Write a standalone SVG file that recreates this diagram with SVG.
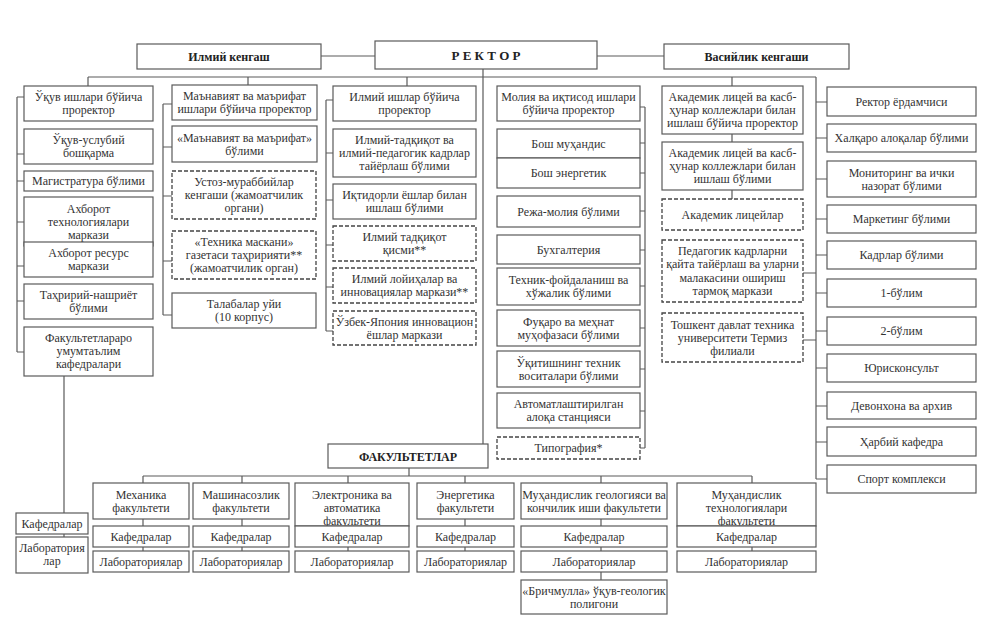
<svg xmlns="http://www.w3.org/2000/svg" width="992" height="641" viewBox="0 0 992 641">
<style>
.r{fill:#fff;stroke:#5a5a5a;stroke-width:1.2}
.d{fill:#fff;stroke:#444;stroke-width:1.3;stroke-dasharray:4 2}
.t{font-family:"Liberation Serif","Times New Roman",serif;font-size:12px;fill:#333;text-anchor:middle}
.b{font-family:"Liberation Serif","Times New Roman",serif;font-size:12px;font-weight:bold;fill:#222;text-anchor:middle}
.c{fill:none;stroke:#5a5a5a;stroke-width:1.2}
</style>
<rect width="992" height="641" fill="#fff"/>
<g id="connectors">
<path class="c" d="M321 56H375 M597 56H664 M88 77H816 M88 77V86 M248 77V85 M407 77V86 M732 77V86 M483 69V444 M816 77V479
M17 97V352 M17 97H24 M17 154H24 M17 181H24 M17 222H24 M17 266H24 M17 301H24 M17 352H24 M64 376V513 M64 534V537
M163 104V315 M163 104H172 M163 147H172 M163 196H172 M163 261H172 M163 315H172
M326 100V331 M326 100H333 M326 153H333 M326 200H333 M326 245H333 M326 287H333 M326 331H333
M645 107V448 M640 107H645 M640 143H645 M640 173H645 M640 211H645 M640 250H645 M640 286H645 M640 328H645 M640 369H645 M640 411H645 M640 448H645
M732 134V142 M732 190V199 M803 273H816 M803 340H816
M816 102H827 M816 138H827 M816 179H827 M816 219H827 M816 255H827 M816 293H827 M816 331H827 M816 368H827 M816 406H827 M816 442H827 M816 479H827
M409 468V476 M143 476H752 M143 476V483 M242 476V483 M348 476V483 M465 476V483 M601 476V483 M752 476V483
M143 519V526 M143 547V551 M242 519V526 M242 547V551 M348 547V551 M465 519V526 M465 547V551 M601 519V526 M601 547V551 M601 572V580 M752 547V551"/>
</g>
<g id="ilmiy-kengash"><rect class="r" x="137" y="44" width="184" height="25"/><text class="b" x="229" y="61">Илмий кенгаш</text></g>
<g id="rektor"><rect class="r" x="375" y="41" width="222" height="28"/><text class="b" x="486" y="60" style="font-size:13px">Р Е К Т О Р</text></g>
<g id="vasiylik"><rect class="r" x="664" y="44" width="185" height="25"/><text class="b" x="756.5" y="61">Васийлик кенгаши</text></g>

<g id="c1-1"><rect class="r" x="24" y="86" width="129" height="35"/><text class="t" x="88.5" y="101">Ўқув ишлари бўйича<tspan x="88.5" dy="13">проректор</tspan></text></g>
<g id="c1-2"><rect class="r" x="24" y="129" width="129" height="35"/><text class="t" x="88.5" y="144">Ўқув-услубий<tspan x="88.5" dy="13">бошқарма</tspan></text></g>
<g id="c1-3"><rect class="r" x="24" y="171" width="129" height="20"/><text class="t" x="88.5" y="185">Магистратура бўлими</text></g>
<g id="c1-4"><rect class="r" x="24" y="197" width="129" height="49"/><text class="t" x="88.5" y="213">Ахборот<tspan x="88.5" dy="13">технологиялари</tspan><tspan x="88.5" dy="13">маркази</tspan></text></g>
<g id="c1-5"><rect class="r" x="24" y="242" width="129" height="35"/><text class="t" x="88.5" y="257">Ахборот ресурс<tspan x="88.5" dy="13">маркази</tspan></text></g>
<g id="c1-6"><rect class="r" x="24" y="284" width="129" height="35"/><text class="t" x="88.5" y="299">Таҳририй-нашриёт<tspan x="88.5" dy="13">бўлими</tspan></text></g>
<g id="c1-7"><rect class="r" x="24" y="327" width="129" height="49"/><text class="t" x="88.5" y="342">Факультетлараро<tspan x="88.5" dy="13">умумтаълим</tspan><tspan x="88.5" dy="13">кафедралари</tspan></text></g>
<g id="c1-8"><rect class="r" x="16" y="513" width="72" height="21"/><text class="t" x="52" y="527.5">Кафедралар</text></g>
<g id="c1-9"><rect class="r" x="16" y="537" width="72" height="36"/><text class="t" x="52" y="552">Лаборатория<tspan x="52" dy="13">лар</tspan></text></g>

<g id="c2-1"><rect class="r" x="172" y="85" width="145" height="35"/><text class="t" x="244.5" y="100">Маънавият ва маърифат<tspan x="244.5" dy="13">ишлари бўйича проректор</tspan></text></g>
<g id="c2-2"><rect class="r" x="172" y="126" width="145" height="36"/><text class="t" x="244.5" y="141.5">«Маънавият ва маърифат»<tspan x="244.5" dy="13">бўлими</tspan></text></g>
<g id="c2-3"><rect class="d" x="172" y="171" width="144" height="48"/><text class="t" x="244" y="186">Устоз-мураббийлар<tspan x="244" dy="13">кенгаши (жамоатчилик</tspan><tspan x="244" dy="13">органи)</tspan></text></g>
<g id="c2-4"><rect class="d" x="172" y="231" width="144" height="48"/><text class="t" x="244" y="246">«Техника маскани»<tspan x="244" dy="13">газетаси таҳририяти**</tspan><tspan x="244" dy="13">(жамоатчилик орган)</tspan></text></g>
<g id="c2-5"><rect class="r" x="172" y="293" width="144" height="35"/><text class="t" x="244" y="308">Талабалар уйи<tspan x="244" dy="13">(10 корпус)</tspan></text></g>

<g id="c3-1"><rect class="r" x="333" y="86" width="143" height="35"/><text class="t" x="404.5" y="101">Илмий ишлар бўйича<tspan x="404.5" dy="13">проректор</tspan></text></g>
<g id="c3-2"><rect class="r" x="333" y="129" width="143" height="48"/><text class="t" x="404.5" y="144">Илмий-тадқиқот ва<tspan x="404.5" dy="13">илмий-педагогик кадрлар</tspan><tspan x="404.5" dy="13">тайёрлаш бўлими</tspan></text></g>
<g id="c3-3"><rect class="r" x="333" y="184" width="143" height="35"/><text class="t" x="404.5" y="199">Иқтидорли ёшлар билан<tspan x="404.5" dy="13">ишлаш бўлими</tspan></text></g>
<g id="c3-4"><rect class="d" x="333" y="226" width="143" height="35"/><text class="t" x="404.5" y="241">Илмий тадқиқот<tspan x="404.5" dy="13">қисми**</tspan></text></g>
<g id="c3-5"><rect class="d" x="333" y="268" width="143" height="35"/><text class="t" x="404.5" y="283">Илмий лойиҳалар ва<tspan x="404.5" dy="13">инновациялар маркази**</tspan></text></g>
<g id="c3-6"><rect class="d" x="333" y="311" width="143" height="34"/><text class="t" x="404.5" y="325.5">Ўзбек-Япония инновацион<tspan x="404.5" dy="13">ёшлар маркази</tspan></text></g>

<g id="c4-1"><rect class="r" x="497" y="86" width="143" height="35"/><text class="t" x="568.5" y="101">Молия ва иқтисод ишлари<tspan x="568.5" dy="13">бўйича проректор</tspan></text></g>
<g id="c4-2"><rect class="r" x="497" y="129" width="143" height="29"/><text class="t" x="568.5" y="147.5">Бош муҳандис</text></g>
<g id="c4-3"><rect class="r" x="497" y="158" width="143" height="30"/><text class="t" x="568.5" y="177">Бош энергетик</text></g>
<g id="c4-4"><rect class="r" x="497" y="196" width="143" height="31"/><text class="t" x="568.5" y="215.5">Режа-молия бўлими</text></g>
<g id="c4-5"><rect class="r" x="497" y="235" width="143" height="29"/><text class="t" x="568.5" y="253.5">Бухгалтерия</text></g>
<g id="c4-6"><rect class="r" x="497" y="268" width="143" height="37"/><text class="t" x="568.5" y="284">Техник-фойдаланиш ва<tspan x="568.5" dy="13">хўжалик бўлими</tspan></text></g>
<g id="c4-7"><rect class="r" x="497" y="310" width="143" height="36"/><text class="t" x="568.5" y="325.5">Фуқаро ва меҳнат<tspan x="568.5" dy="13">муҳофазаси бўлими</tspan></text></g>
<g id="c4-8"><rect class="r" x="497" y="351" width="143" height="36"/><text class="t" x="568.5" y="366.5">Ўқитишнинг техник<tspan x="568.5" dy="13">воситалари бўлими</tspan></text></g>
<g id="c4-9"><rect class="r" x="497" y="393" width="143" height="35"/><text class="t" x="568.5" y="408">Автоматлаштирилган<tspan x="568.5" dy="13">алоқа станцияси</tspan></text></g>
<g id="c4-10"><rect class="d" x="497" y="437" width="143" height="22"/><text class="t" x="568.5" y="452">Типография*</text></g>

<g id="c5-1"><rect class="r" x="662" y="86" width="141" height="48"/><text class="t" x="732.5" y="101">Академик лицей ва касб-<tspan x="732.5" dy="13">ҳунар коллежлари билан</tspan><tspan x="732.5" dy="13">ишлаш бўйича проректор</tspan></text></g>
<g id="c5-2"><rect class="r" x="662" y="142" width="141" height="48"/><text class="t" x="732.5" y="157">Академик лицей ва касб-<tspan x="732.5" dy="13">ҳунар коллежлари билан</tspan><tspan x="732.5" dy="13">ишлаш бўлими</tspan></text></g>
<g id="c5-3"><rect class="d" x="662" y="199" width="141" height="31"/><text class="t" x="732.5" y="218.5">Академик лицейлар</text></g>
<g id="c5-4"><rect class="d" x="662" y="240" width="141" height="62"/><text class="t" x="732.5" y="255">Педагогик кадрларни<tspan x="732.5" dy="13">қайта тайёрлаш ва уларни</tspan><tspan x="732.5" dy="13.5">малакасини ошириш</tspan><tspan x="732.5" dy="13">тармоқ маркази</tspan></text></g>
<g id="c5-5"><rect class="d" x="662" y="313" width="141" height="49"/><text class="t" x="732.5" y="328.5">Тошкент давлат техника<tspan x="732.5" dy="13">университети Термиз</tspan><tspan x="732.5" dy="13">филиали</tspan></text></g>

<g id="r-1"><rect class="r" x="827" y="87" width="149" height="29"/><text class="t" x="901.5" y="105.5">Ректор ёрдамчиси</text></g>
<g id="r-2"><rect class="r" x="827" y="124" width="149" height="28"/><text class="t" x="901.5" y="142">Халқаро алоқалар бўлими</text></g>
<g id="r-3"><rect class="r" x="827" y="161" width="149" height="36"/><text class="t" x="901.5" y="176.5">Мониторинг ва ички<tspan x="901.5" dy="13">назорат бўлими</tspan></text></g>
<g id="r-4"><rect class="r" x="827" y="205" width="149" height="28"/><text class="t" x="901.5" y="223">Маркетинг бўлими</text></g>
<g id="r-5"><rect class="r" x="827" y="241" width="149" height="28"/><text class="t" x="901.5" y="259">Кадрлар бўлими</text></g>
<g id="r-6"><rect class="r" x="827" y="279" width="149" height="28"/><text class="t" x="901.5" y="297">1-бўлим</text></g>
<g id="r-7"><rect class="r" x="827" y="317" width="149" height="28"/><text class="t" x="901.5" y="335">2-бўлим</text></g>
<g id="r-8"><rect class="r" x="827" y="354" width="149" height="28"/><text class="t" x="901.5" y="372">Юрисконсульт</text></g>
<g id="r-9"><rect class="r" x="827" y="392" width="149" height="27"/><text class="t" x="901.5" y="409.5">Девонхона ва архив</text></g>
<g id="r-10"><rect class="r" x="827" y="427" width="149" height="29"/><text class="t" x="901.5" y="445.5">Ҳарбий кафедра</text></g>
<g id="r-11"><rect class="r" x="827" y="465" width="149" height="28"/><text class="t" x="901.5" y="483">Спорт комплекси</text></g>

<g id="fakultetlar"><rect class="r" x="328" y="444" width="160" height="24"/><text class="b" x="408" y="460.5">ФАКУЛЬТЕТЛАР</text></g>

<g id="f1"><rect class="r" x="93" y="483" width="96" height="36"/><text class="t" x="141" y="498.5">Механика<tspan x="141" dy="13">факультети</tspan></text></g>
<g id="f1-k"><rect class="r" x="93" y="526" width="96" height="21"/><text class="t" x="141" y="540.5">Кафедралар</text></g>
<g id="f1-l"><rect class="r" x="93" y="551" width="96" height="21"/><text class="t" x="141" y="565.5">Лабораториялар</text></g>

<g id="f2"><rect class="r" x="193" y="483" width="96" height="36"/><text class="t" x="241" y="498.5">Машинасозлик<tspan x="241" dy="13">факультети</tspan></text></g>
<g id="f2-k"><rect class="r" x="193" y="526" width="96" height="21"/><text class="t" x="241" y="540.5">Кафедралар</text></g>
<g id="f2-l"><rect class="r" x="193" y="551" width="96" height="21"/><text class="t" x="241" y="565.5">Лабораториялар</text></g>

<g id="f3"><rect class="r" x="295" y="483" width="114" height="43"/><text class="t" x="352" y="499">Электроника ва<tspan x="352" dy="13">автоматика</tspan><tspan x="352" dy="13">факультети</tspan></text></g>
<g id="f3-k"><rect class="r" x="295" y="526" width="114" height="21"/><text class="t" x="352" y="540.5">Кафедралар</text></g>
<g id="f3-l"><rect class="r" x="295" y="551" width="114" height="21"/><text class="t" x="352" y="565.5">Лабораториялар</text></g>

<g id="f4"><rect class="r" x="417" y="483" width="97" height="36"/><text class="t" x="465.5" y="498.5">Энергетика<tspan x="465.5" dy="13">факультети</tspan></text></g>
<g id="f4-k"><rect class="r" x="417" y="526" width="97" height="21"/><text class="t" x="465.5" y="540.5">Кафедралар</text></g>
<g id="f4-l"><rect class="r" x="417" y="551" width="97" height="21"/><text class="t" x="465.5" y="565.5">Лабораториялар</text></g>

<g id="f5"><rect class="r" x="521" y="483" width="146" height="36"/><text class="t" x="594" y="498.5">Муҳандислик геологияси ва<tspan x="594" dy="13">кончилик иши факультети</tspan></text></g>
<g id="f5-k"><rect class="r" x="521" y="526" width="146" height="21"/><text class="t" x="594" y="540.5">Кафедралар</text></g>
<g id="f5-l"><rect class="r" x="521" y="551" width="146" height="21"/><text class="t" x="594" y="565.5">Лабораториялар</text></g>
<g id="f5-p"><rect class="r" x="521" y="580" width="146" height="34"/><text class="t" x="594" y="594.5">«Бричмулла» ўқув-геологик<tspan x="594" dy="13">полигони</tspan></text></g>

<g id="f6"><rect class="r" x="677" y="483" width="139" height="43"/><text class="t" x="746.5" y="499">Муҳандислик<tspan x="746.5" dy="13">технологиялари</tspan><tspan x="746.5" dy="13">факультети</tspan></text></g>
<g id="f6-k"><rect class="r" x="677" y="526" width="139" height="21"/><text class="t" x="746.5" y="540.5">Кафедралар</text></g>
<g id="f6-l"><rect class="r" x="677" y="551" width="139" height="21"/><text class="t" x="746.5" y="565.5">Лабораториялар</text></g>
</svg>
